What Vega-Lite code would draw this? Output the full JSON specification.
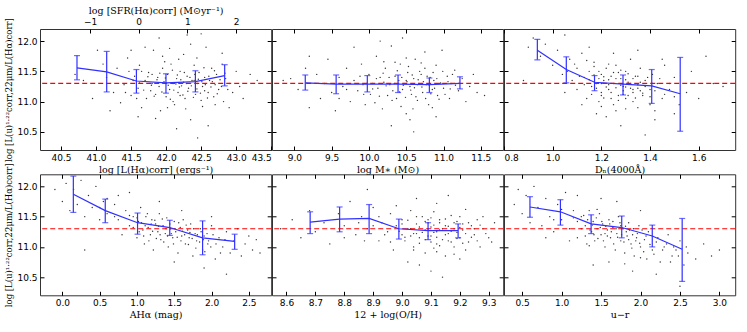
{
"$schema":"https://vega.github.io/schema/vega-lite/v6.json",
"padding":{"left":4,"top":4,"right":14,"bottom":4},
"config":{
 "view":{"stroke":"#333","strokeWidth":1},
 "axis":{"labelFont":"DejaVu Sans","labelFontSize":9,"labelColor":"#000","titleFont":"DejaVu Serif","titleFontSize":9.5,"titleFontWeight":"normal","titleColor":"#000","titlePadding":2,"grid":false,"domain":false,"tickColor":"#000","tickSize":-4,"labelPadding":7},
 "axisY":{"titleFontSize":8.5,"titlePadding":3}
},
"datasets":{
"s1":[{"x":41.02,"y":11.85},{"x":41.1,"y":11.62},{"x":40.82,"y":11.35},{"x":40.95,"y":11.05},{"x":41.15,"y":11.4},{"x":41.25,"y":11.15},{"x":41.3,"y":11.55},{"x":41.35,"y":10.98},{"x":41.4,"y":11.28},{"x":41.45,"y":11.72},{"x":41.5,"y":11.1},{"x":41.55,"y":11.42},{"x":41.6,"y":11.22},{"x":41.62,"y":11.6},{"x":41.65,"y":10.9},{"x":41.7,"y":11.35},{"x":41.72,"y":11.05},{"x":41.75,"y":11.48},{"x":41.78,"y":11.18},{"x":41.8,"y":11.3},{"x":41.82,"y":11.85},{"x":41.85,"y":11.12},{"x":41.88,"y":11.4},{"x":41.9,"y":11.25},{"x":41.92,"y":10.85},{"x":41.95,"y":11.55},{"x":41.97,"y":11.33},{"x":42.0,"y":11.08},{"x":42.02,"y":11.45},{"x":42.05,"y":11.2},{"x":42.07,"y":11.62},{"x":42.1,"y":11.3},{"x":42.12,"y":10.95},{"x":42.15,"y":11.38},{"x":42.17,"y":11.15},{"x":42.2,"y":11.5},{"x":42.22,"y":11.26},{"x":42.25,"y":11.78},{"x":42.27,"y":11.05},{"x":42.3,"y":11.42},{"x":42.32,"y":11.22},{"x":42.35,"y":10.7},{"x":42.37,"y":11.35},{"x":42.4,"y":11.6},{"x":42.42,"y":11.12},{"x":42.45,"y":11.3},{"x":42.47,"y":11.48},{"x":42.5,"y":11.02},{"x":42.52,"y":11.25},{"x":42.55,"y":11.4},{"x":42.57,"y":11.9},{"x":42.6,"y":11.15},{"x":42.62,"y":11.35},{"x":42.65,"y":11.55},{"x":42.68,"y":11.08},{"x":42.7,"y":11.28},{"x":42.72,"y":11.45},{"x":42.75,"y":11.2},{"x":42.8,"y":11.62},{"x":42.82,"y":11.0},{"x":42.85,"y":11.38},{"x":42.9,"y":11.3},{"x":42.95,"y":11.15},{"x":43.0,"y":11.5},{"x":43.05,"y":11.25},{"x":43.2,"y":11.45},{"x":43.1,"y":11.05},{"x":41.9,"y":12.05},{"x":42.3,"y":12.1},{"x":42.5,"y":12.12},{"x":42.15,"y":10.55},{"x":42.45,"y":10.4},{"x":42.6,"y":10.6},{"x":41.6,"y":10.75},{"x":41.85,"y":10.72},{"x":42.9,"y":10.9},{"x":41.95,"y":11.75},{"x":42.35,"y":11.95},{"x":42.05,"y":11.88},{"x":41.7,"y":11.9},{"x":41.5,"y":11.85},{"x":42.8,"y":11.8},{"x":42.1,"y":11.0},{"x":42.2,"y":11.1},{"x":42.0,"y":11.3},{"x":41.8,"y":11.45},{"x":42.4,"y":11.35},{"x":42.25,"y":11.32},{"x":42.55,"y":11.18},{"x":41.65,"y":11.5},{"x":42.7,"y":10.95},{"x":40.7,"y":11.45},{"x":41.2,"y":10.85},{"x":43.3,"y":11.35},
{"x":41.62,"y":11.31},{"x":41.68,"y":11.19},{"x":41.74,"y":11.41},{"x":41.79,"y":11.27},{"x":41.83,"y":11.09},{"x":41.87,"y":11.36},{"x":41.91,"y":11.47},{"x":41.94,"y":11.16},{"x":41.99,"y":11.39},{"x":42.03,"y":11.27},{"x":42.06,"y":11.04},{"x":42.09,"y":11.52},{"x":42.11,"y":11.19},{"x":42.14,"y":11.29},{"x":42.16,"y":11.44},{"x":42.19,"y":11.24},{"x":42.21,"y":11.36},{"x":42.24,"y":11.11},{"x":42.26,"y":11.48},{"x":42.29,"y":11.3},{"x":42.31,"y":11.17},{"x":42.34,"y":11.4},{"x":42.36,"y":11.26},{"x":42.39,"y":11.07},{"x":42.41,"y":11.45},{"x":42.44,"y":11.21},{"x":42.46,"y":11.37},{"x":42.49,"y":11.14},{"x":42.51,"y":11.33},{"x":42.54,"y":11.56},{"x":42.56,"y":11.28},{"x":42.59,"y":11.06},{"x":42.61,"y":11.42},{"x":42.64,"y":11.24},{"x":42.66,"y":11.33},{"x":42.69,"y":11.51},{"x":42.73,"y":11.13},{"x":42.77,"y":11.36},{"x":42.79,"y":11.25},{"x":42.84,"y":11.47},{"x":42.88,"y":11.2},{"x":41.58,"y":11.05},{"x":41.53,"y":11.35},{"x":41.47,"y":11.5},{"x":41.42,"y":11.15},{"x":42.02,"y":10.9},{"x":42.28,"y":10.88},{"x":42.52,"y":10.92},{"x":42.18,"y":11.7},{"x":42.44,"y":11.72},{"x":41.98,"y":11.66}],
"s2":[{"x":8.95,"y":11.38},{"x":9.05,"y":11.2},{"x":9.15,"y":11.55},{"x":9.2,"y":10.9},{"x":9.3,"y":11.45},{"x":9.35,"y":11.05},{"x":9.4,"y":11.3},{"x":9.45,"y":11.7},{"x":9.5,"y":11.15},{"x":9.55,"y":10.85},{"x":9.6,"y":11.4},{"x":9.65,"y":11.25},{"x":9.7,"y":11.55},{"x":9.75,"y":11.0},{"x":9.8,"y":11.35},{"x":9.85,"y":11.18},{"x":9.9,"y":11.62},{"x":9.92,"y":11.28},{"x":9.95,"y":10.95},{"x":10.0,"y":11.45},{"x":10.02,"y":11.12},{"x":10.05,"y":11.3},{"x":10.1,"y":11.75},{"x":10.12,"y":11.22},{"x":10.15,"y":11.4},{"x":10.18,"y":10.88},{"x":10.2,"y":11.32},{"x":10.22,"y":11.55},{"x":10.25,"y":11.1},{"x":10.28,"y":11.28},{"x":10.3,"y":11.92},{"x":10.32,"y":11.18},{"x":10.35,"y":11.42},{"x":10.37,"y":11.05},{"x":10.4,"y":11.35},{"x":10.42,"y":11.62},{"x":10.45,"y":11.2},{"x":10.47,"y":11.3},{"x":10.5,"y":10.8},{"x":10.52,"y":11.48},{"x":10.55,"y":11.25},{"x":10.57,"y":11.12},{"x":10.6,"y":11.38},{"x":10.62,"y":11.7},{"x":10.65,"y":11.02},{"x":10.67,"y":11.3},{"x":10.7,"y":11.45},{"x":10.72,"y":11.15},{"x":10.75,"y":11.55},{"x":10.77,"y":11.28},{"x":10.8,"y":10.95},{"x":10.82,"y":11.4},{"x":10.85,"y":11.2},{"x":10.87,"y":11.35},{"x":10.9,"y":11.6},{"x":10.92,"y":11.1},{"x":10.95,"y":11.3},{"x":10.98,"y":11.85},{"x":11.0,"y":11.22},{"x":11.05,"y":11.42},{"x":11.08,"y":11.05},{"x":11.1,"y":11.3},{"x":11.15,"y":11.52},{"x":11.2,"y":11.18},{"x":11.25,"y":11.38},{"x":11.3,"y":11.0},{"x":11.35,"y":11.25},{"x":11.4,"y":11.45},{"x":11.45,"y":11.15},{"x":10.3,"y":10.6},{"x":10.6,"y":10.5},{"x":10.45,"y":12.05},{"x":10.15,"y":12.0},{"x":9.8,"y":11.9},{"x":10.55,"y":10.7},{"x":9.2,"y":11.75},{"x":8.85,"y":11.35},{"x":11.55,"y":11.1},{"x":10.9,"y":10.75},{"x":10.35,"y":11.65},{"x":10.75,"y":11.82},{"x":10.65,"y":11.28},{"x":10.5,"y":11.35},
{"x":10.05,"y":11.21},{"x":10.1,"y":11.38},{"x":10.14,"y":11.09},{"x":10.19,"y":11.47},{"x":10.23,"y":11.26},{"x":10.27,"y":11.4},{"x":10.31,"y":11.02},{"x":10.34,"y":11.3},{"x":10.38,"y":11.51},{"x":10.41,"y":11.16},{"x":10.44,"y":11.4},{"x":10.46,"y":11.27},{"x":10.49,"y":11.07},{"x":10.51,"y":11.33},{"x":10.53,"y":11.58},{"x":10.56,"y":11.19},{"x":10.58,"y":11.44},{"x":10.61,"y":11.23},{"x":10.63,"y":11.08},{"x":10.66,"y":11.36},{"x":10.68,"y":11.5},{"x":10.71,"y":11.24},{"x":10.73,"y":11.33},{"x":10.76,"y":11.05},{"x":10.78,"y":11.42},{"x":10.81,"y":11.27},{"x":10.83,"y":11.13},{"x":10.86,"y":11.48},{"x":10.88,"y":11.22},{"x":10.91,"y":11.38},{"x":10.94,"y":11.04},{"x":10.96,"y":11.31},{"x":10.99,"y":11.5},{"x":11.02,"y":11.12},{"x":11.06,"y":11.33},{"x":11.09,"y":11.21},{"x":11.12,"y":11.45},{"x":11.16,"y":11.27},{"x":9.88,"y":11.42},{"x":9.93,"y":11.12},{"x":9.97,"y":11.3},{"x":10.08,"y":10.98},{"x":10.43,"y":10.92},{"x":10.59,"y":10.88},{"x":10.85,"y":10.9},{"x":10.2,"y":11.66},{"x":10.5,"y":11.72},{"x":10.7,"y":11.64},{"x":9.7,"y":11.2},{"x":9.6,"y":11.05}],
"s3":[{"x":0.9,"y":11.9},{"x":0.92,"y":12.05},{"x":0.95,"y":11.75},{"x":0.97,"y":11.95},{"x":1.0,"y":11.6},{"x":1.02,"y":11.85},{"x":1.04,"y":11.45},{"x":1.05,"y":12.1},{"x":1.07,"y":11.7},{"x":1.08,"y":11.35},{"x":1.1,"y":11.55},{"x":1.1,"y":11.2},{"x":1.12,"y":11.8},{"x":1.13,"y":11.4},{"x":1.14,"y":11.05},{"x":1.15,"y":11.5},{"x":1.16,"y":11.25},{"x":1.17,"y":11.65},{"x":1.18,"y":11.3},{"x":1.19,"y":11.0},{"x":1.2,"y":11.45},{"x":1.2,"y":11.15},{"x":1.21,"y":11.35},{"x":1.22,"y":11.55},{"x":1.23,"y":11.2},{"x":1.24,"y":11.42},{"x":1.25,"y":10.95},{"x":1.25,"y":11.3},{"x":1.26,"y":11.6},{"x":1.27,"y":11.1},{"x":1.28,"y":11.38},{"x":1.29,"y":11.25},{"x":1.3,"y":11.5},{"x":1.3,"y":11.05},{"x":1.31,"y":11.32},{"x":1.32,"y":11.7},{"x":1.33,"y":11.15},{"x":1.34,"y":11.42},{"x":1.35,"y":10.9},{"x":1.35,"y":11.28},{"x":1.36,"y":11.55},{"x":1.37,"y":11.1},{"x":1.38,"y":11.35},{"x":1.4,"y":11.2},{"x":1.41,"y":11.45},{"x":1.42,"y":10.85},{"x":1.43,"y":11.3},{"x":1.45,"y":11.05},{"x":1.46,"y":11.6},{"x":1.48,"y":11.2},{"x":1.5,"y":11.4},{"x":1.52,"y":10.95},{"x":1.55,"y":11.15},{"x":1.57,"y":11.5},{"x":1.6,"y":11.05},{"x":1.63,"y":11.75},{"x":1.66,"y":11.3},{"x":1.7,"y":11.25},{"x":1.18,"y":10.8},{"x":1.22,"y":10.75},{"x":1.28,"y":10.6},{"x":1.38,"y":10.45},{"x":1.42,"y":10.7},{"x":1.15,"y":11.9},{"x":1.25,"y":11.8},{"x":1.35,"y":11.85},{"x":0.88,"y":11.35},{"x":1.05,"y":11.15},{"x":1.12,"y":10.95},{"x":1.45,"y":11.7},{"x":1.27,"y":11.48},{"x":1.23,"y":11.28},{"x":1.19,"y":11.38},{"x":1.32,"y":11.22},{"x":1.29,"y":11.12},{"x":1.33,"y":11.0},{"x":1.36,"y":11.18},{"x":1.24,"y":11.05},{"x":1.5,"y":10.8},{"x":1.2,"y":11.1},
{"x":1.15,"y":11.36},{"x":1.16,"y":11.12},{"x":1.17,"y":11.44},{"x":1.18,"y":11.22},{"x":1.19,"y":11.5},{"x":1.2,"y":11.3},{"x":1.21,"y":11.06},{"x":1.21,"y":11.41},{"x":1.22,"y":11.24},{"x":1.23,"y":11.36},{"x":1.24,"y":11.15},{"x":1.25,"y":11.48},{"x":1.26,"y":11.23},{"x":1.26,"y":11.38},{"x":1.27,"y":11.02},{"x":1.28,"y":11.27},{"x":1.28,"y":11.52},{"x":1.29,"y":11.18},{"x":1.3,"y":11.36},{"x":1.3,"y":11.24},{"x":1.31,"y":11.1},{"x":1.31,"y":11.46},{"x":1.32,"y":11.3},{"x":1.33,"y":11.2},{"x":1.33,"y":11.38},{"x":1.34,"y":11.06},{"x":1.35,"y":11.22},{"x":1.35,"y":11.42},{"x":1.36,"y":11.32},{"x":1.37,"y":11.14},{"x":1.38,"y":11.25},{"x":1.39,"y":11.4},{"x":1.4,"y":11.08},{"x":1.41,"y":11.3},{"x":1.42,"y":11.18},{"x":1.44,"y":11.38},{"x":1.46,"y":11.12},{"x":1.48,"y":11.3},{"x":1.17,"y":11.58},{"x":1.23,"y":11.62},{"x":1.13,"y":11.28},{"x":1.11,"y":11.42},{"x":1.09,"y":11.62},{"x":1.06,"y":11.5},{"x":1.14,"y":11.68},{"x":1.3,"y":10.88},{"x":1.26,"y":10.85},{"x":1.4,"y":10.95},{"x":1.2,"y":10.92},{"x":1.5,"y":11.08}],
"s4":[{"x":-0.1,"y":11.95},{"x":0.0,"y":11.75},{"x":0.05,"y":12.05},{"x":0.1,"y":11.6},{"x":0.15,"y":11.95},{"x":0.2,"y":11.7},{"x":0.25,"y":12.1},{"x":0.3,"y":11.5},{"x":0.35,"y":11.85},{"x":0.4,"y":11.65},{"x":0.45,"y":12.0},{"x":0.5,"y":11.45},{"x":0.55,"y":11.75},{"x":0.6,"y":11.55},{"x":0.65,"y":11.3},{"x":0.7,"y":11.7},{"x":0.75,"y":11.45},{"x":0.8,"y":11.2},{"x":0.85,"y":11.6},{"x":0.9,"y":11.35},{"x":0.95,"y":11.5},{"x":1.0,"y":11.15},{"x":1.02,"y":11.42},{"x":1.05,"y":11.65},{"x":1.08,"y":11.28},{"x":1.1,"y":11.05},{"x":1.12,"y":11.5},{"x":1.15,"y":11.32},{"x":1.18,"y":11.2},{"x":1.2,"y":11.45},{"x":1.22,"y":10.95},{"x":1.25,"y":11.38},{"x":1.28,"y":11.25},{"x":1.3,"y":11.55},{"x":1.32,"y":11.12},{"x":1.35,"y":11.35},{"x":1.38,"y":11.22},{"x":1.4,"y":11.48},{"x":1.42,"y":11.0},{"x":1.45,"y":11.3},{"x":1.48,"y":11.15},{"x":1.5,"y":11.42},{"x":1.52,"y":11.25},{"x":1.55,"y":10.9},{"x":1.58,"y":11.32},{"x":1.6,"y":11.18},{"x":1.62,"y":11.45},{"x":1.65,"y":11.05},{"x":1.68,"y":11.28},{"x":1.7,"y":11.15},{"x":1.72,"y":11.38},{"x":1.75,"y":10.85},{"x":1.78,"y":11.22},{"x":1.8,"y":11.1},{"x":1.85,"y":11.3},{"x":1.88,"y":10.95},{"x":1.9,"y":11.18},{"x":1.95,"y":11.05},{"x":2.0,"y":11.35},{"x":2.05,"y":10.8},{"x":2.1,"y":11.15},{"x":2.15,"y":11.0},{"x":2.2,"y":11.25},{"x":2.25,"y":10.9},{"x":2.3,"y":11.1},{"x":2.35,"y":11.3},{"x":2.4,"y":10.85},{"x":2.45,"y":11.05},{"x":2.5,"y":11.18},{"x":2.55,"y":10.95},{"x":2.6,"y":11.12},{"x":2.65,"y":10.9},{"x":1.3,"y":11.75},{"x":1.6,"y":11.6},{"x":0.9,"y":11.9},{"x":1.9,"y":10.65},{"x":2.2,"y":10.55},{"x":1.5,"y":10.75},{"x":2.0,"y":11.5},{"x":0.3,"y":10.95},
{"x":0.9,"y":11.52},{"x":0.95,"y":11.32},{"x":1.0,"y":11.48},{"x":1.03,"y":11.25},{"x":1.06,"y":11.4},{"x":1.09,"y":11.18},{"x":1.11,"y":11.35},{"x":1.14,"y":11.55},{"x":1.16,"y":11.1},{"x":1.19,"y":11.38},{"x":1.21,"y":11.26},{"x":1.24,"y":11.44},{"x":1.26,"y":11.14},{"x":1.29,"y":11.34},{"x":1.31,"y":11.2},{"x":1.34,"y":11.46},{"x":1.36,"y":11.08},{"x":1.39,"y":11.3},{"x":1.41,"y":11.18},{"x":1.44,"y":11.38},{"x":1.46,"y":11.22},{"x":1.49,"y":11.05},{"x":1.51,"y":11.3},{"x":1.54,"y":11.16},{"x":1.56,"y":11.4},{"x":1.59,"y":11.1},{"x":1.61,"y":11.26},{"x":1.64,"y":11.2},{"x":1.66,"y":11.36},{"x":1.69,"y":11.04},{"x":1.71,"y":11.24},{"x":1.74,"y":11.14},{"x":1.76,"y":11.3},{"x":1.79,"y":10.98},{"x":1.81,"y":11.2},{"x":1.84,"y":11.08},{"x":1.86,"y":11.25},{"x":1.89,"y":11.12},{"x":1.91,"y":10.92},{"x":1.94,"y":11.22},{"x":1.96,"y":11.1},{"x":1.99,"y":11.0},{"x":2.02,"y":11.2},{"x":2.06,"y":11.05},{"x":2.12,"y":10.9},{"x":2.18,"y":11.12},{"x":0.7,"y":11.5},{"x":0.75,"y":11.85},{"x":0.6,"y":11.8},{"x":0.5,"y":11.65}],
"s5":[{"x":8.58,"y":11.3},{"x":8.62,"y":11.45},{"x":8.65,"y":11.15},{"x":8.68,"y":11.6},{"x":8.7,"y":11.25},{"x":8.73,"y":11.4},{"x":8.75,"y":11.05},{"x":8.78,"y":11.55},{"x":8.8,"y":11.35},{"x":8.82,"y":11.75},{"x":8.84,"y":11.2},{"x":8.86,"y":11.5},{"x":8.88,"y":11.3},{"x":8.9,"y":11.65},{"x":8.92,"y":11.1},{"x":8.93,"y":11.4},{"x":8.95,"y":11.25},{"x":8.96,"y":11.55},{"x":8.97,"y":10.95},{"x":8.98,"y":11.35},{"x":9.0,"y":11.2},{"x":9.0,"y":11.45},{"x":9.01,"y":11.1},{"x":9.02,"y":11.3},{"x":9.03,"y":11.6},{"x":9.04,"y":11.0},{"x":9.05,"y":11.38},{"x":9.05,"y":11.22},{"x":9.06,"y":11.15},{"x":9.07,"y":11.5},{"x":9.08,"y":11.28},{"x":9.08,"y":10.9},{"x":9.09,"y":11.4},{"x":9.1,"y":11.18},{"x":9.1,"y":11.33},{"x":9.11,"y":11.58},{"x":9.12,"y":11.05},{"x":9.12,"y":11.25},{"x":9.13,"y":11.45},{"x":9.14,"y":11.12},{"x":9.15,"y":11.35},{"x":9.15,"y":10.85},{"x":9.16,"y":11.22},{"x":9.17,"y":11.52},{"x":9.18,"y":11.3},{"x":9.18,"y":11.0},{"x":9.19,"y":11.42},{"x":9.2,"y":11.15},{"x":9.21,"y":11.28},{"x":9.22,"y":11.62},{"x":9.23,"y":11.08},{"x":9.24,"y":11.35},{"x":9.25,"y":11.2},{"x":9.26,"y":11.45},{"x":9.27,"y":11.0},{"x":9.28,"y":11.3},{"x":9.3,"y":11.15},{"x":9.06,"y":10.7},{"x":9.1,"y":10.6},{"x":9.14,"y":10.5},{"x":9.02,"y":10.75},{"x":9.2,"y":10.8},{"x":9.05,"y":11.8},{"x":9.12,"y":11.72},{"x":8.98,"y":11.68},{"x":9.16,"y":11.85},{"x":8.88,"y":11.95},{"x":9.32,"y":11.4},{"x":9.08,"y":11.12},{"x":9.13,"y":11.28},{"x":9.03,"y":11.18},{"x":9.17,"y":11.08},{"x":9.21,"y":11.38},{"x":9.09,"y":11.45},{"x":9.11,"y":10.98},{"x":8.96,"y":11.08},{"x":9.19,"y":11.24},
{"x":8.99,"y":11.26},{"x":9.0,"y":11.38},{"x":9.01,"y":11.16},{"x":9.02,"y":11.44},{"x":9.03,"y":11.3},{"x":9.04,"y":11.22},{"x":9.05,"y":11.5},{"x":9.06,"y":11.33},{"x":9.06,"y":11.06},{"x":9.07,"y":11.24},{"x":9.08,"y":11.42},{"x":9.09,"y":11.18},{"x":9.09,"y":11.3},{"x":9.1,"y":11.48},{"x":9.1,"y":11.08},{"x":9.11,"y":11.24},{"x":9.11,"y":11.36},{"x":9.12,"y":11.16},{"x":9.13,"y":11.4},{"x":9.13,"y":11.02},{"x":9.14,"y":11.3},{"x":9.15,"y":11.2},{"x":9.15,"y":11.46},{"x":9.16,"y":11.34},{"x":9.16,"y":11.1},{"x":9.17,"y":11.26},{"x":9.18,"y":11.4},{"x":9.19,"y":11.14},{"x":9.2,"y":11.32},{"x":9.2,"y":11.5},{"x":9.21,"y":11.06},{"x":9.22,"y":11.22},{"x":9.23,"y":11.4},{"x":9.24,"y":11.16},{"x":9.25,"y":11.3},{"x":9.26,"y":11.1},{"x":9.27,"y":11.36},{"x":9.29,"y":11.22},{"x":8.94,"y":11.2},{"x":8.92,"y":11.5},{"x":8.9,"y":11.35},{"x":8.87,"y":11.1},{"x":8.85,"y":11.4},{"x":8.8,"y":11.15},{"x":9.31,"y":11.08},{"x":9.28,"y":11.5},{"x":9.12,"y":10.92},{"x":9.18,"y":10.88},{"x":9.04,"y":10.95},{"x":9.22,"y":10.95}],
"s6":[{"x":0.4,"y":11.7},{"x":0.45,"y":11.95},{"x":0.5,"y":11.55},{"x":0.55,"y":11.85},{"x":0.6,"y":11.4},{"x":0.65,"y":12.0},{"x":0.7,"y":11.65},{"x":0.75,"y":11.35},{"x":0.8,"y":11.8},{"x":0.85,"y":11.5},{"x":0.9,"y":11.25},{"x":0.95,"y":11.7},{"x":1.0,"y":11.45},{"x":1.05,"y":11.9},{"x":1.1,"y":11.3},{"x":1.15,"y":11.6},{"x":1.2,"y":11.15},{"x":1.25,"y":11.5},{"x":1.3,"y":11.35},{"x":1.32,"y":11.05},{"x":1.35,"y":11.6},{"x":1.38,"y":11.25},{"x":1.4,"y":11.42},{"x":1.42,"y":11.1},{"x":1.45,"y":11.3},{"x":1.48,"y":11.55},{"x":1.5,"y":11.2},{"x":1.52,"y":11.38},{"x":1.55,"y":11.0},{"x":1.58,"y":11.28},{"x":1.6,"y":11.45},{"x":1.62,"y":11.15},{"x":1.65,"y":11.32},{"x":1.68,"y":10.95},{"x":1.7,"y":11.22},{"x":1.72,"y":11.5},{"x":1.75,"y":11.1},{"x":1.78,"y":11.3},{"x":1.8,"y":10.9},{"x":1.82,"y":11.25},{"x":1.85,"y":11.4},{"x":1.88,"y":11.05},{"x":1.9,"y":11.2},{"x":1.92,"y":10.85},{"x":1.95,"y":11.15},{"x":1.98,"y":11.35},{"x":2.0,"y":11.0},{"x":2.05,"y":11.12},{"x":2.08,"y":10.8},{"x":2.1,"y":11.25},{"x":2.15,"y":10.95},{"x":2.2,"y":11.08},{"x":2.25,"y":10.75},{"x":2.3,"y":11.0},{"x":2.35,"y":11.2},{"x":2.4,"y":10.85},{"x":2.45,"y":10.95},{"x":2.5,"y":11.1},{"x":2.55,"y":10.7},{"x":2.6,"y":10.9},{"x":2.7,"y":10.8},{"x":2.8,"y":11.05},{"x":2.9,"y":10.85},{"x":3.0,"y":10.95},{"x":1.5,"y":11.8},{"x":1.7,"y":11.75},{"x":2.0,"y":11.6},{"x":1.2,"y":11.85},{"x":1.4,"y":10.7},{"x":1.6,"y":10.75},{"x":1.9,"y":10.6},{"x":2.2,"y":10.55},{"x":2.5,"y":10.35},{"x":1.1,"y":11.1},{"x":0.8,"y":11.15},{"x":1.65,"y":11.42},{"x":1.75,"y":11.35},{"x":1.85,"y":11.12},{"x":1.55,"y":11.22},
{"x":1.2,"y":11.42},{"x":1.25,"y":11.3},{"x":1.28,"y":11.52},{"x":1.3,"y":11.18},{"x":1.33,"y":11.45},{"x":1.36,"y":11.28},{"x":1.39,"y":11.36},{"x":1.41,"y":11.2},{"x":1.44,"y":11.48},{"x":1.46,"y":11.14},{"x":1.49,"y":11.32},{"x":1.51,"y":11.42},{"x":1.53,"y":11.1},{"x":1.56,"y":11.34},{"x":1.58,"y":11.18},{"x":1.61,"y":11.38},{"x":1.63,"y":11.25},{"x":1.66,"y":11.05},{"x":1.69,"y":11.3},{"x":1.71,"y":11.16},{"x":1.74,"y":11.4},{"x":1.76,"y":11.2},{"x":1.79,"y":11.08},{"x":1.81,"y":11.34},{"x":1.83,"y":11.18},{"x":1.86,"y":11.28},{"x":1.89,"y":10.98},{"x":1.91,"y":11.3},{"x":1.94,"y":11.1},{"x":1.96,"y":11.22},{"x":1.99,"y":11.06},{"x":2.02,"y":11.28},{"x":2.04,"y":10.92},{"x":2.07,"y":11.18},{"x":2.12,"y":11.04},{"x":2.17,"y":10.88},{"x":2.22,"y":11.15},{"x":2.28,"y":10.95},{"x":2.33,"y":11.05},{"x":2.38,"y":10.75},{"x":2.42,"y":11.0},{"x":2.48,"y":10.85},{"x":2.58,"y":11.0},{"x":1.15,"y":11.48},{"x":1.0,"y":11.62},{"x":0.9,"y":11.45},{"x":1.45,"y":11.62},{"x":1.8,"y":10.72},{"x":2.0,"y":10.82},{"x":1.35,"y":11.02}],
"b1":[{"x":40.728,"m":11.556,"lo":11.36,"hi":11.76},{"x":41.152,"m":11.49,"lo":11.16,"hi":11.83},{"x":41.576,"m":11.34,"lo":11.14,"hi":11.53},{"x":41.998,"m":11.31,"lo":11.14,"hi":11.46},{"x":42.418,"m":11.33,"lo":11.16,"hi":11.51},{"x":42.836,"m":11.43,"lo":11.26,"hi":11.61}],
"b2":[{"x":9.146,"m":11.31,"lo":11.19,"hi":11.44},{"x":9.56,"m":11.29,"lo":11.13,"hi":11.44},{"x":9.978,"m":11.29,"lo":11.16,"hi":11.43},{"x":10.39,"m":11.29,"lo":11.15,"hi":11.44},{"x":10.81,"m":11.28,"lo":11.15,"hi":11.39},{"x":11.22,"m":11.3,"lo":11.21,"hi":11.41}],
"b3":[{"x":0.937,"m":11.85,"lo":11.69,"hi":12.03},{"x":1.056,"m":11.53,"lo":11.31,"hi":11.74},{"x":1.172,"m":11.32,"lo":11.18,"hi":11.43},{"x":1.289,"m":11.29,"lo":11.11,"hi":11.44},{"x":1.407,"m":11.26,"lo":10.97,"hi":11.53},{"x":1.524,"m":11.13,"lo":10.51,"hi":11.73}],
"b4":[{"x":0.147,"m":11.87,"lo":11.57,"hi":12.17},{"x":0.575,"m":11.6,"lo":11.4,"hi":11.79},{"x":1.008,"m":11.4,"lo":11.21,"hi":11.56},{"x":1.44,"m":11.32,"lo":11.19,"hi":11.44},{"x":1.88,"m":11.15,"lo":10.87,"hi":11.43},{"x":2.31,"m":11.09,"lo":10.96,"hi":11.21}],
"b5":[{"x":8.682,"m":11.41,"lo":11.22,"hi":11.58},{"x":8.784,"m":11.46,"lo":11.25,"hi":11.66},{"x":8.886,"m":11.47,"lo":11.22,"hi":11.7},{"x":8.989,"m":11.3,"lo":11.13,"hi":11.46},{"x":9.09,"m":11.27,"lo":11.12,"hi":11.4},{"x":9.194,"m":11.27,"lo":11.15,"hi":11.38}],
"b6":[{"x":0.599,"m":11.66,"lo":11.49,"hi":11.83},{"x":0.985,"m":11.58,"lo":11.36,"hi":11.78},{"x":1.374,"m":11.38,"lo":11.22,"hi":11.53},{"x":1.762,"m":11.32,"lo":11.15,"hi":11.51},{"x":2.149,"m":11.18,"lo":11.0,"hi":11.36},{"x":2.528,"m":10.96,"lo":10.43,"hi":11.47}]
},
"columns":3,
"spacing":{"row":24.3,"column":0},
"bounds":"flush",
"concat":[
{"width":231.2,"height":121,"resolve":{"axis":{"x":"independent","y":"independent"}},"layer":[
 {"data":{"name":"s1"},"mark":{"type":"circle","size":2,"color":"#000","opacity":0.8},"encoding":{"x":{"field":"x","type":"quantitative","scale":{"domain":[40.2,43.5],"nice":false,"zero":false},"axis":{"orient":"bottom","values":[40.5,41,41.5,42,42.5,43,43.5],"format":".1f","title":"log [L(Hα)corr] (ergs⁻¹)"}},"y":{"field":"y","type":"quantitative","scale":{"domain":[10.2,12.2],"nice":false,"zero":false},"axis":{"values":[10.5,11,11.5,12],"format":".1f","title":"log [L(u)¹·²²corr,22μm/L(Hα)corr]"}}}},
 {"data":{"values":[{"r":11.3}]},"mark":{"type":"rule","color":"#ff0000","strokeDash":[5,3],"strokeWidth":1.2},"encoding":{"y":{"field":"r","type":"quantitative","scale":{"domain":[10.2,12.2],"nice":false,"zero":false},"axis":{"orient":"right","values":[10.5,11,11.5,12],"labels":false,"title":null}}}},
 {"data":{"name":"b1"},"mark":{"type":"rule","color":"#3030ff","strokeWidth":1.2},"encoding":{"x":{"field":"x","type":"quantitative","scale":{"domain":[40.2,43.5],"nice":false,"zero":false},"axis":{"orient":"top","values":[40.914,41.609,42.304,42.998],"labelExpr":"datum.value < 41 ? '−1' : datum.value < 42 ? '0' : datum.value < 42.5 ? '1' : '2'","title":"log [SFR(Hα)corr] (M⊙yr⁻¹)"}},"y":{"field":"lo","type":"quantitative","axis":null},"y2":{"field":"hi"}}},
 {"data":{"name":"b1"},"mark":{"type":"tick","orient":"horizontal","size":6,"thickness":1.2,"color":"#3030ff"},"encoding":{"x":{"field":"x","type":"quantitative","axis":null},"y":{"field":"lo","type":"quantitative","axis":null}}},
 {"data":{"name":"b1"},"mark":{"type":"tick","orient":"horizontal","size":6,"thickness":1.2,"color":"#3030ff"},"encoding":{"x":{"field":"x","type":"quantitative","axis":null},"y":{"field":"hi","type":"quantitative","axis":null}}},
 {"data":{"name":"b1"},"mark":{"type":"line","color":"#3030ff","strokeWidth":1.2},"encoding":{"x":{"field":"x","type":"quantitative","axis":null},"y":{"field":"m","type":"quantitative","axis":null}}}
]},
{"width":231.2,"height":121,"resolve":{"axis":{"x":"independent","y":"independent"}},"layer":[
 {"data":{"name":"s2"},"mark":{"type":"circle","size":2,"color":"#000","opacity":0.8},"encoding":{"x":{"field":"x","type":"quantitative","scale":{"domain":[8.7,11.8],"nice":false,"zero":false},"axis":{"orient":"bottom","values":[9,9.5,10,10.5,11,11.5],"format":".1f","title":"log M∗ (M⊙)"}},"y":{"field":"y","type":"quantitative","scale":{"domain":[10.2,12.2],"nice":false,"zero":false},"axis":{"values":[10.5,11,11.5,12],"labels":false,"title":null}}}},
 {"data":{"values":[{"r":11.3}]},"mark":{"type":"rule","color":"#ff0000","strokeDash":[5,3],"strokeWidth":1.2},"encoding":{"y":{"field":"r","type":"quantitative","scale":{"domain":[10.2,12.2],"nice":false,"zero":false},"axis":{"orient":"right","values":[10.5,11,11.5,12],"labels":false,"title":null}}}},
 {"data":{"name":"b2"},"mark":{"type":"rule","color":"#3030ff","strokeWidth":1.2},"encoding":{"x":{"field":"x","type":"quantitative","scale":{"domain":[8.7,11.8],"nice":false,"zero":false},"axis":{"orient":"top","values":[9,9.5,10,10.5,11,11.5],"labels":false,"title":null}},"y":{"field":"lo","type":"quantitative","axis":null},"y2":{"field":"hi"}}},
 {"data":{"name":"b2"},"mark":{"type":"tick","orient":"horizontal","size":6,"thickness":1.2,"color":"#3030ff"},"encoding":{"x":{"field":"x","type":"quantitative","axis":null},"y":{"field":"lo","type":"quantitative","axis":null}}},
 {"data":{"name":"b2"},"mark":{"type":"tick","orient":"horizontal","size":6,"thickness":1.2,"color":"#3030ff"},"encoding":{"x":{"field":"x","type":"quantitative","axis":null},"y":{"field":"hi","type":"quantitative","axis":null}}},
 {"data":{"name":"b2"},"mark":{"type":"line","color":"#3030ff","strokeWidth":1.2},"encoding":{"x":{"field":"x","type":"quantitative","axis":null},"y":{"field":"m","type":"quantitative","axis":null}}}
]},
{"width":231.2,"height":121,"resolve":{"axis":{"x":"independent","y":"independent"}},"layer":[
 {"data":{"name":"s3"},"mark":{"type":"circle","size":2,"color":"#000","opacity":0.8},"encoding":{"x":{"field":"x","type":"quantitative","scale":{"domain":[0.8,1.75],"nice":false,"zero":false},"axis":{"orient":"bottom","values":[0.8,1.0,1.2,1.4,1.6],"format":".1f","title":"Dₙ(4000Å)"}},"y":{"field":"y","type":"quantitative","scale":{"domain":[10.2,12.2],"nice":false,"zero":false},"axis":{"values":[10.5,11,11.5,12],"labels":false,"title":null}}}},
 {"data":{"values":[{"r":11.3}]},"mark":{"type":"rule","color":"#ff0000","strokeDash":[5,3],"strokeWidth":1.2},"encoding":{"y":{"field":"r","type":"quantitative","scale":{"domain":[10.2,12.2],"nice":false,"zero":false},"axis":{"orient":"right","values":[10.5,11,11.5,12],"labels":false,"title":null}}}},
 {"data":{"name":"b3"},"mark":{"type":"rule","color":"#3030ff","strokeWidth":1.2},"encoding":{"x":{"field":"x","type":"quantitative","scale":{"domain":[0.8,1.75],"nice":false,"zero":false},"axis":{"orient":"top","values":[0.8,1.0,1.2,1.4,1.6],"labels":false,"title":null}},"y":{"field":"lo","type":"quantitative","axis":null},"y2":{"field":"hi"}}},
 {"data":{"name":"b3"},"mark":{"type":"tick","orient":"horizontal","size":6,"thickness":1.2,"color":"#3030ff"},"encoding":{"x":{"field":"x","type":"quantitative","axis":null},"y":{"field":"lo","type":"quantitative","axis":null}}},
 {"data":{"name":"b3"},"mark":{"type":"tick","orient":"horizontal","size":6,"thickness":1.2,"color":"#3030ff"},"encoding":{"x":{"field":"x","type":"quantitative","axis":null},"y":{"field":"hi","type":"quantitative","axis":null}}},
 {"data":{"name":"b3"},"mark":{"type":"line","color":"#3030ff","strokeWidth":1.2},"encoding":{"x":{"field":"x","type":"quantitative","axis":null},"y":{"field":"m","type":"quantitative","axis":null}}}
]},
{"width":231.2,"height":121,"resolve":{"axis":{"x":"independent","y":"independent"}},"layer":[
 {"data":{"name":"s4"},"mark":{"type":"circle","size":2,"color":"#000","opacity":0.8},"encoding":{"x":{"field":"x","type":"quantitative","scale":{"domain":[-0.3,2.8],"nice":false,"zero":false},"axis":{"orient":"bottom","values":[0,0.5,1,1.5,2,2.5],"format":".1f","title":"AHα (mag)"}},"y":{"field":"y","type":"quantitative","scale":{"domain":[10.2,12.2],"nice":false,"zero":false},"axis":{"values":[10.5,11,11.5,12],"format":".1f","title":"log [L(u)¹·²²corr,22μm/L(Hα)corr]"}}}},
 {"data":{"values":[{"r":11.3}]},"mark":{"type":"rule","color":"#ff0000","strokeDash":[5,3],"strokeWidth":1.2},"encoding":{"y":{"field":"r","type":"quantitative","scale":{"domain":[10.2,12.2],"nice":false,"zero":false},"axis":{"orient":"right","values":[10.5,11,11.5,12],"labels":false,"title":null}}}},
 {"data":{"name":"b4"},"mark":{"type":"rule","color":"#3030ff","strokeWidth":1.2},"encoding":{"x":{"field":"x","type":"quantitative","scale":{"domain":[-0.3,2.8],"nice":false,"zero":false},"axis":{"orient":"top","values":[0,0.5,1,1.5,2,2.5],"labels":false,"title":null}},"y":{"field":"lo","type":"quantitative","axis":null},"y2":{"field":"hi"}}},
 {"data":{"name":"b4"},"mark":{"type":"tick","orient":"horizontal","size":6,"thickness":1.2,"color":"#3030ff"},"encoding":{"x":{"field":"x","type":"quantitative","axis":null},"y":{"field":"lo","type":"quantitative","axis":null}}},
 {"data":{"name":"b4"},"mark":{"type":"tick","orient":"horizontal","size":6,"thickness":1.2,"color":"#3030ff"},"encoding":{"x":{"field":"x","type":"quantitative","axis":null},"y":{"field":"hi","type":"quantitative","axis":null}}},
 {"data":{"name":"b4"},"mark":{"type":"line","color":"#3030ff","strokeWidth":1.2},"encoding":{"x":{"field":"x","type":"quantitative","axis":null},"y":{"field":"m","type":"quantitative","axis":null}}}
]},
{"width":231.2,"height":121,"resolve":{"axis":{"x":"independent","y":"independent"}},"layer":[
 {"data":{"name":"s5"},"mark":{"type":"circle","size":2,"color":"#000","opacity":0.8},"encoding":{"x":{"field":"x","type":"quantitative","scale":{"domain":[8.55,9.35],"nice":false,"zero":false},"axis":{"orient":"bottom","values":[8.6,8.7,8.8,8.9,9.0,9.1,9.2,9.3],"format":".1f","title":"12 + log(O/H)"}},"y":{"field":"y","type":"quantitative","scale":{"domain":[10.2,12.2],"nice":false,"zero":false},"axis":{"values":[10.5,11,11.5,12],"labels":false,"title":null}}}},
 {"data":{"values":[{"r":11.3}]},"mark":{"type":"rule","color":"#ff0000","strokeDash":[5,3],"strokeWidth":1.2},"encoding":{"y":{"field":"r","type":"quantitative","scale":{"domain":[10.2,12.2],"nice":false,"zero":false},"axis":{"orient":"right","values":[10.5,11,11.5,12],"labels":false,"title":null}}}},
 {"data":{"name":"b5"},"mark":{"type":"rule","color":"#3030ff","strokeWidth":1.2},"encoding":{"x":{"field":"x","type":"quantitative","scale":{"domain":[8.55,9.35],"nice":false,"zero":false},"axis":{"orient":"top","values":[8.6,8.7,8.8,8.9,9.0,9.1,9.2,9.3],"labels":false,"title":null}},"y":{"field":"lo","type":"quantitative","axis":null},"y2":{"field":"hi"}}},
 {"data":{"name":"b5"},"mark":{"type":"tick","orient":"horizontal","size":6,"thickness":1.2,"color":"#3030ff"},"encoding":{"x":{"field":"x","type":"quantitative","axis":null},"y":{"field":"lo","type":"quantitative","axis":null}}},
 {"data":{"name":"b5"},"mark":{"type":"tick","orient":"horizontal","size":6,"thickness":1.2,"color":"#3030ff"},"encoding":{"x":{"field":"x","type":"quantitative","axis":null},"y":{"field":"hi","type":"quantitative","axis":null}}},
 {"data":{"name":"b5"},"mark":{"type":"line","color":"#3030ff","strokeWidth":1.2},"encoding":{"x":{"field":"x","type":"quantitative","axis":null},"y":{"field":"m","type":"quantitative","axis":null}}}
]},
{"width":231.2,"height":121,"resolve":{"axis":{"x":"independent","y":"independent"}},"layer":[
 {"data":{"name":"s6"},"mark":{"type":"circle","size":2,"color":"#000","opacity":0.8},"encoding":{"x":{"field":"x","type":"quantitative","scale":{"domain":[0.27,3.2],"nice":false,"zero":false},"axis":{"orient":"bottom","values":[0.5,1,1.5,2,2.5,3],"format":".1f","title":"u−r"}},"y":{"field":"y","type":"quantitative","scale":{"domain":[10.2,12.2],"nice":false,"zero":false},"axis":{"values":[10.5,11,11.5,12],"labels":false,"title":null}}}},
 {"data":{"values":[{"r":11.3}]},"mark":{"type":"rule","color":"#ff0000","strokeDash":[5,3],"strokeWidth":1.2},"encoding":{"y":{"field":"r","type":"quantitative","scale":{"domain":[10.2,12.2],"nice":false,"zero":false},"axis":{"orient":"right","values":[10.5,11,11.5,12],"labels":false,"title":null}}}},
 {"data":{"name":"b6"},"mark":{"type":"rule","color":"#3030ff","strokeWidth":1.2},"encoding":{"x":{"field":"x","type":"quantitative","scale":{"domain":[0.27,3.2],"nice":false,"zero":false},"axis":{"orient":"top","values":[0.5,1,1.5,2,2.5,3],"labels":false,"title":null}},"y":{"field":"lo","type":"quantitative","axis":null},"y2":{"field":"hi"}}},
 {"data":{"name":"b6"},"mark":{"type":"tick","orient":"horizontal","size":6,"thickness":1.2,"color":"#3030ff"},"encoding":{"x":{"field":"x","type":"quantitative","axis":null},"y":{"field":"lo","type":"quantitative","axis":null}}},
 {"data":{"name":"b6"},"mark":{"type":"tick","orient":"horizontal","size":6,"thickness":1.2,"color":"#3030ff"},"encoding":{"x":{"field":"x","type":"quantitative","axis":null},"y":{"field":"hi","type":"quantitative","axis":null}}},
 {"data":{"name":"b6"},"mark":{"type":"line","color":"#3030ff","strokeWidth":1.2},"encoding":{"x":{"field":"x","type":"quantitative","axis":null},"y":{"field":"m","type":"quantitative","axis":null}}}
]}
]
}
